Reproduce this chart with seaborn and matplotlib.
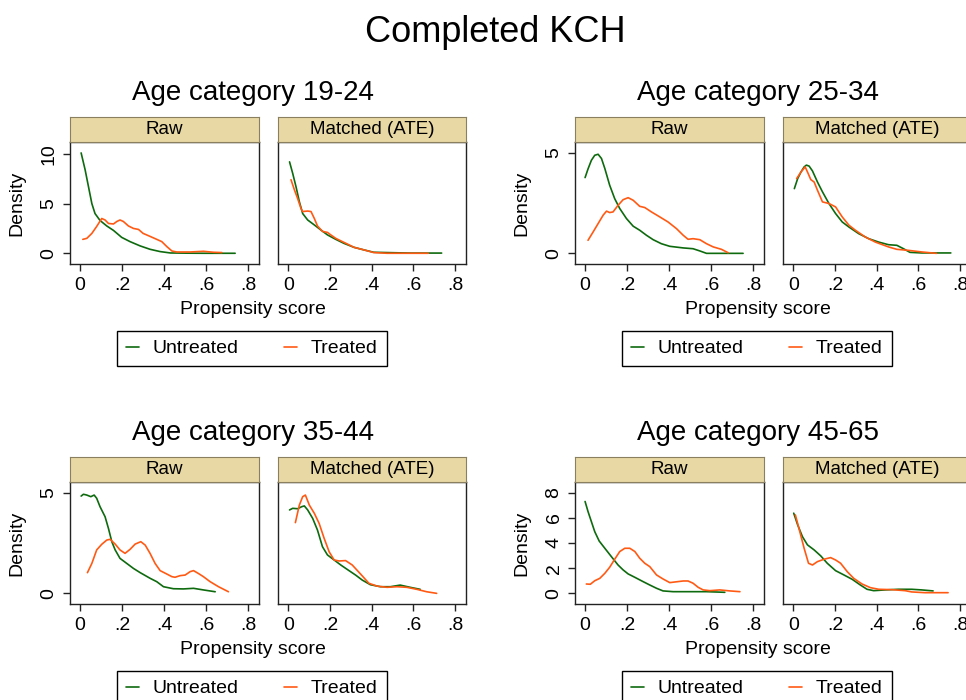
import numpy as np
import pandas as pd
import matplotlib
matplotlib.use("Agg")
import matplotlib.pyplot as plt
from matplotlib.lines import Line2D
import seaborn as sns

sns.set_style("ticks")
plt.rcParams['font.family'] = ['Liberation Sans', 'DejaVu Sans']
plt.rcParams['text.color'] = 'black'
plt.rcParams['axes.labelcolor'] = 'black'
plt.rcParams['xtick.color'] = 'black'
plt.rcParams['ytick.color'] = 'black'

# ---------------- data ----------------
main_title = "Completed KCH"
group_titles = ["Age category 19-24", "Age category 25-34", "Age category 35-44", "Age category 45-65"]
panel_labels = ["Raw", "Matched (ATE)"]
series_labels = ["Untreated", "Treated"]
x_ticks = [0, 0.2, 0.4, 0.6, 0.8]
x_tick_labels = ["0", ".2", ".4", ".6", ".8"]
y_ticks_1924 = [0, 5, 10]
y_ticks_2534 = [0, 5]
y_ticks_3544 = [0, 5]
y_ticks_4565 = [0, 2, 4, 6, 8]

# 19-24 raw
x_1924_raw_un = [0.005, 0.024, 0.04, 0.056, 0.071, 0.095, 0.127, 0.159, 0.198, 0.238, 0.286, 0.333, 0.381, 0.43, 0.51, 0.587, 0.738]
y_1924_raw_un = [10.1, 8.4, 6.7, 5.0, 4.0, 3.3, 2.75, 2.3, 1.6, 1.17, 0.74, 0.4, 0.17, 0.03, 0.01, 0.0, 0.0]
x_1924_raw_tr = [0.013, 0.032, 0.056, 0.079, 0.103, 0.119, 0.135, 0.159, 0.175, 0.19, 0.206, 0.23, 0.254, 0.278, 0.30, 0.333, 0.365, 0.389, 0.413, 0.437, 0.46, 0.524, 0.587, 0.635, 0.675]
y_1924_raw_tr = [1.4, 1.5, 2.0, 2.7, 3.5, 3.35, 3.0, 2.95, 3.2, 3.35, 3.2, 2.75, 2.5, 2.4, 2.0, 1.7, 1.4, 1.17, 0.67, 0.23, 0.13, 0.13, 0.2, 0.1, 0.07]
# 19-24 matched
x_1924_mat_un = [0.006, 0.021, 0.037, 0.053, 0.069, 0.093, 0.125, 0.156, 0.188, 0.228, 0.267, 0.315, 0.363, 0.41, 0.474, 0.585, 0.736]
y_1924_mat_un = [9.2, 8.05, 6.7, 5.2, 4.0, 3.35, 2.85, 2.35, 1.85, 1.4, 1.0, 0.6, 0.34, 0.1, 0.07, 0.02, 0.02]
x_1924_mat_tr = [0.013, 0.029, 0.045, 0.061, 0.069, 0.093, 0.109, 0.125, 0.14, 0.164, 0.188, 0.204, 0.228, 0.26, 0.283, 0.315, 0.363, 0.41, 0.474, 0.585, 0.672]
y_1924_mat_tr = [7.4, 6.4, 5.5, 4.5, 4.2, 4.25, 4.2, 3.5, 2.75, 2.2, 2.1, 1.85, 1.5, 1.17, 0.94, 0.6, 0.34, 0.07, 0.0, 0.0, 0.0]

# 25-34 raw
x_2534_raw_un = [0.0, 0.014, 0.03, 0.046, 0.062, 0.078, 0.094, 0.117, 0.141, 0.165, 0.197, 0.229, 0.26, 0.292, 0.324, 0.363, 0.403, 0.467, 0.514, 0.546, 0.578, 0.657, 0.752]
y_2534_raw_un = [3.77, 4.2, 4.63, 4.88, 4.93, 4.72, 4.22, 3.39, 2.72, 2.23, 1.73, 1.35, 1.15, 0.9, 0.68, 0.48, 0.35, 0.27, 0.23, 0.12, 0.0, 0.0, 0.0]
x_2534_raw_tr = [0.014, 0.038, 0.062, 0.086, 0.102, 0.117, 0.133, 0.157, 0.181, 0.205, 0.229, 0.26, 0.284, 0.316, 0.356, 0.395, 0.435, 0.467, 0.49, 0.514, 0.546, 0.578, 0.61, 0.649, 0.681]
y_2534_raw_tr = [0.65, 1.06, 1.48, 1.9, 2.1, 2.03, 2.06, 2.39, 2.67, 2.77, 2.64, 2.34, 2.28, 2.06, 1.81, 1.56, 1.23, 0.9, 0.7, 0.73, 0.68, 0.48, 0.32, 0.2, 0.03]
# 25-34 matched
x_2534_mat_un = [0.005, 0.021, 0.037, 0.052, 0.063, 0.076, 0.092, 0.116, 0.14, 0.171, 0.203, 0.235, 0.267, 0.314, 0.362, 0.41, 0.457, 0.497, 0.529, 0.56, 0.616, 0.68, 0.756]
y_2534_mat_un = [3.22, 3.72, 4.05, 4.3, 4.39, 4.34, 4.1, 3.55, 3.06, 2.48, 1.98, 1.56, 1.31, 0.98, 0.73, 0.56, 0.43, 0.4, 0.23, 0.05, 0.02, 0.02, 0.02]
x_2534_mat_tr = [0.016, 0.037, 0.057, 0.068, 0.084, 0.1, 0.116, 0.14, 0.171, 0.203, 0.235, 0.267, 0.298, 0.346, 0.394, 0.457, 0.497, 0.552, 0.616, 0.687]
y_2534_mat_tr = [3.72, 4.05, 4.3, 4.05, 3.67, 3.55, 3.14, 2.56, 2.48, 2.31, 1.81, 1.4, 1.15, 0.81, 0.56, 0.32, 0.2, 0.15, 0.07, 0.0]

# 35-44 raw
x_3544_raw_un = [0.005, 0.016, 0.032, 0.051, 0.067, 0.079, 0.095, 0.119, 0.135, 0.151, 0.167, 0.19, 0.222, 0.254, 0.286, 0.333, 0.365, 0.397, 0.444, 0.492, 0.54, 0.587, 0.643]
y_3544_raw_un = [4.84, 4.93, 4.89, 4.81, 4.89, 4.73, 4.31, 3.81, 3.23, 2.57, 2.16, 1.74, 1.49, 1.24, 1.03, 0.75, 0.58, 0.33, 0.23, 0.22, 0.25, 0.17, 0.08]
x_3544_raw_tr = [0.035, 0.056, 0.079, 0.103, 0.127, 0.143, 0.167, 0.19, 0.214, 0.238, 0.262, 0.289, 0.31, 0.333, 0.357, 0.381, 0.413, 0.437, 0.452, 0.476, 0.5, 0.524, 0.54, 0.563, 0.587, 0.619, 0.659, 0.706]
y_3544_raw_tr = [1.03, 1.49, 2.16, 2.44, 2.65, 2.69, 2.45, 2.16, 1.99, 2.19, 2.45, 2.57, 2.4, 1.99, 1.49, 1.13, 0.96, 0.83, 0.8, 0.88, 0.91, 1.08, 1.13, 0.99, 0.83, 0.58, 0.33, 0.08]
# 35-44 matched
x_3544_mat_un = [0.006, 0.021, 0.045, 0.064, 0.077, 0.093, 0.117, 0.14, 0.164, 0.188, 0.22, 0.252, 0.283, 0.323, 0.355, 0.394, 0.442, 0.49, 0.537, 0.585, 0.633]
y_3544_mat_un = [4.15, 4.23, 4.21, 4.31, 4.35, 4.15, 3.73, 3.15, 2.32, 1.91, 1.66, 1.41, 1.19, 0.91, 0.66, 0.43, 0.33, 0.33, 0.41, 0.3, 0.2]
x_3544_mat_tr = [0.034, 0.053, 0.069, 0.082, 0.101, 0.125, 0.148, 0.172, 0.196, 0.22, 0.244, 0.275, 0.307, 0.347, 0.387, 0.426, 0.474, 0.522, 0.569, 0.617, 0.664, 0.712]
y_3544_mat_tr = [3.52, 4.39, 4.81, 4.89, 4.39, 3.98, 3.48, 2.74, 2.07, 1.66, 1.61, 1.63, 1.41, 0.96, 0.5, 0.36, 0.3, 0.33, 0.3, 0.2, 0.08, 0.0]

# 45-65 raw
x_4565_raw_un = [0.0, 0.014, 0.03, 0.046, 0.067, 0.094, 0.125, 0.157, 0.181, 0.205, 0.237, 0.276, 0.308, 0.34, 0.371, 0.419, 0.498, 0.578, 0.665]
y_4565_raw_un = [7.3, 6.5, 5.7, 4.9, 4.16, 3.58, 2.92, 2.25, 1.86, 1.54, 1.27, 0.93, 0.66, 0.4, 0.19, 0.13, 0.13, 0.13, 0.08]
x_4565_raw_tr = [0.006, 0.025, 0.046, 0.07, 0.094, 0.117, 0.141, 0.165, 0.189, 0.213, 0.237, 0.26, 0.284, 0.308, 0.34, 0.371, 0.403, 0.427, 0.467, 0.49, 0.514, 0.538, 0.562, 0.594, 0.641, 0.689, 0.737]
y_4565_raw_tr = [0.74, 0.72, 1.0, 1.19, 1.59, 2.07, 2.71, 3.32, 3.58, 3.58, 3.32, 2.79, 2.39, 2.12, 1.46, 1.14, 0.85, 0.9, 0.98, 0.98, 0.8, 0.48, 0.27, 0.21, 0.27, 0.19, 0.13]
# 45-65 matched
x_4565_mat_un = [0.002, 0.021, 0.044, 0.068, 0.1, 0.132, 0.163, 0.203, 0.243, 0.283, 0.322, 0.354, 0.386, 0.441, 0.505, 0.568, 0.616, 0.671]
y_4565_mat_un = [6.37, 5.44, 4.5, 3.85, 3.45, 2.97, 2.39, 1.8, 1.46, 1.11, 0.66, 0.32, 0.21, 0.27, 0.32, 0.32, 0.27, 0.19]
x_4565_mat_tr = [0.01, 0.029, 0.052, 0.073, 0.092, 0.116, 0.148, 0.179, 0.203, 0.227, 0.259, 0.29, 0.33, 0.37, 0.41, 0.473, 0.537, 0.568, 0.632, 0.695, 0.743]
y_4565_mat_tr = [6.23, 5.04, 3.58, 2.39, 2.25, 2.52, 2.71, 2.84, 2.65, 2.39, 1.72, 1.19, 0.74, 0.45, 0.32, 0.29, 0.21, 0.11, 0.05, 0.05, 0.05]

# ---------------- styling ----------------
W, H = 966, 700
GREEN = "#0e6a0e"
ORANGE = "#ff5a14"
STRIP = "#e8d8a4"
STRIP_EDGE = "#8a8060"
palette = {"Untreated": GREEN, "Treated": ORANGE}

fig = plt.figure(figsize=(W / 100, H / 100), dpi=100)
fig.patch.set_facecolor("white")


def fx(px):
    return px / W


def fy(py):
    return 1 - py / H


def rect(l, t, r, b):
    return [fx(l), fy(b), fx(r) - fx(l), fy(t) - fy(b)]


fig.text(fx(495), fy(32), main_title, ha="center", va="center", fontsize=26, color="black")

groups = [
    dict(title=group_titles[0], dx=0, dy=0, ylim=(-1.08, 11.2), yticks=y_ticks_1924,
         curves=[(x_1924_raw_un, y_1924_raw_un, x_1924_raw_tr, y_1924_raw_tr),
                 (x_1924_mat_un, y_1924_mat_un, x_1924_mat_tr, y_1924_mat_tr)]),
    dict(title=group_titles[1], dx=505, dy=0, ylim=(-0.53, 5.54), yticks=y_ticks_2534,
         curves=[(x_2534_raw_un, y_2534_raw_un, x_2534_raw_tr, y_2534_raw_tr),
                 (x_2534_mat_un, y_2534_mat_un, x_2534_mat_tr, y_2534_mat_tr)]),
    dict(title=group_titles[2], dx=0, dy=340, ylim=(-0.53, 5.54), yticks=y_ticks_3544,
         curves=[(x_3544_raw_un, y_3544_raw_un, x_3544_raw_tr, y_3544_raw_tr),
                 (x_3544_mat_un, y_3544_mat_un, x_3544_mat_tr, y_3544_mat_tr)]),
    dict(title=group_titles[3], dx=505, dy=340, ylim=(-0.85, 8.85), yticks=y_ticks_4565,
         curves=[(x_4565_raw_un, y_4565_raw_un, x_4565_raw_tr, y_4565_raw_tr),
                 (x_4565_mat_un, y_4565_mat_un, x_4565_mat_tr, y_4565_mat_tr)]),
]

panel_x = [(70, 259.3), (278.3, 466)]
PT, PB = 142, 264
ST = 117

for g in groups:
    dx, dy = g["dx"], g["dy"]
    fig.text(fx(253 + dx), fy(93 + dy), g["title"], ha="center", va="center", fontsize=20, color="black")
    for pi, (l, r) in enumerate(panel_x):
        xu, yu, xt, yt = g["curves"][pi]
        df = pd.concat([
            pd.DataFrame({"score": xu, "density": yu, "status": series_labels[0]}),
            pd.DataFrame({"score": xt, "density": yt, "status": series_labels[1]}),
        ], ignore_index=True)
        ax = fig.add_axes(rect(l + dx, PT + dy, r + dx, PB + dy))
        sns.lineplot(data=df, x="score", y="density", hue="status", hue_order=series_labels,
                     palette=palette, sort=False, estimator=None, ax=ax, legend=False,
                     linewidth=1.2)
        ax.set_xlim(-0.048, 0.853)
        ax.set_ylim(*g["ylim"])
        ax.set_xticks(x_ticks)
        ax.set_xticklabels(x_tick_labels)
        ax.set_xlabel("")
        ax.set_ylabel("")
        for s in ax.spines.values():
            s.set_visible(True)
            s.set_color("#222222")
            s.set_linewidth(1.0)
        ax.tick_params(axis="x", length=5, width=1.0, pad=4, labelsize=14, colors="#222222",
                       labelcolor="black")
        if pi == 0:
            ax.set_yticks(g["yticks"])
            ax.set_yticklabels([str(v) for v in g["yticks"]], rotation=90, va="center")
            ax.tick_params(axis="y", length=5, width=1.0, pad=4, labelsize=14, colors="#222222",
                           labelcolor="black")
        else:
            ax.set_yticks([])
        ax.set_facecolor("white")
        # strip
        sax = fig.add_axes(rect(l + dx, ST + dy, r + dx, PT + dy))
        sax.set_xticks([])
        sax.set_yticks([])
        sax.set_facecolor(STRIP)
        for s in sax.spines.values():
            s.set_color(STRIP_EDGE)
            s.set_linewidth(0.8)
        sax.text(0.5, 0.5, panel_labels[pi], transform=sax.transAxes, ha="center", va="center",
                 fontsize=13.5, color="black")
    fig.text(fx(17 + dx), fy(203 + dy), "Density", rotation=90, ha="center", va="center",
             fontsize=14, color="black")
    fig.text(fx(253 + dx), fy(310 + dy), "Propensity score", ha="center", va="center",
             fontsize=14, color="black")
    handles = [Line2D([], [], color=GREEN, lw=1.2), Line2D([], [], color=ORANGE, lw=1.2)]
    leg = fig.legend(handles, series_labels, ncol=2, loc="upper left",
                     bbox_to_anchor=(fx(117 + dx), fy(331 + dy)), frameon=True, fancybox=False,
                     edgecolor="black", fontsize=14, handlelength=0.7, handletextpad=0.7,
                     columnspacing=2.3, borderpad=0.45, borderaxespad=0)
    leg.get_frame().set_linewidth(1.0)
    leg.get_frame().set_facecolor("white")
    leg.get_frame().set_alpha(1)
    for t in leg.get_texts():
        t.set_color("black")

fig.savefig("out.png", dpi=100)
